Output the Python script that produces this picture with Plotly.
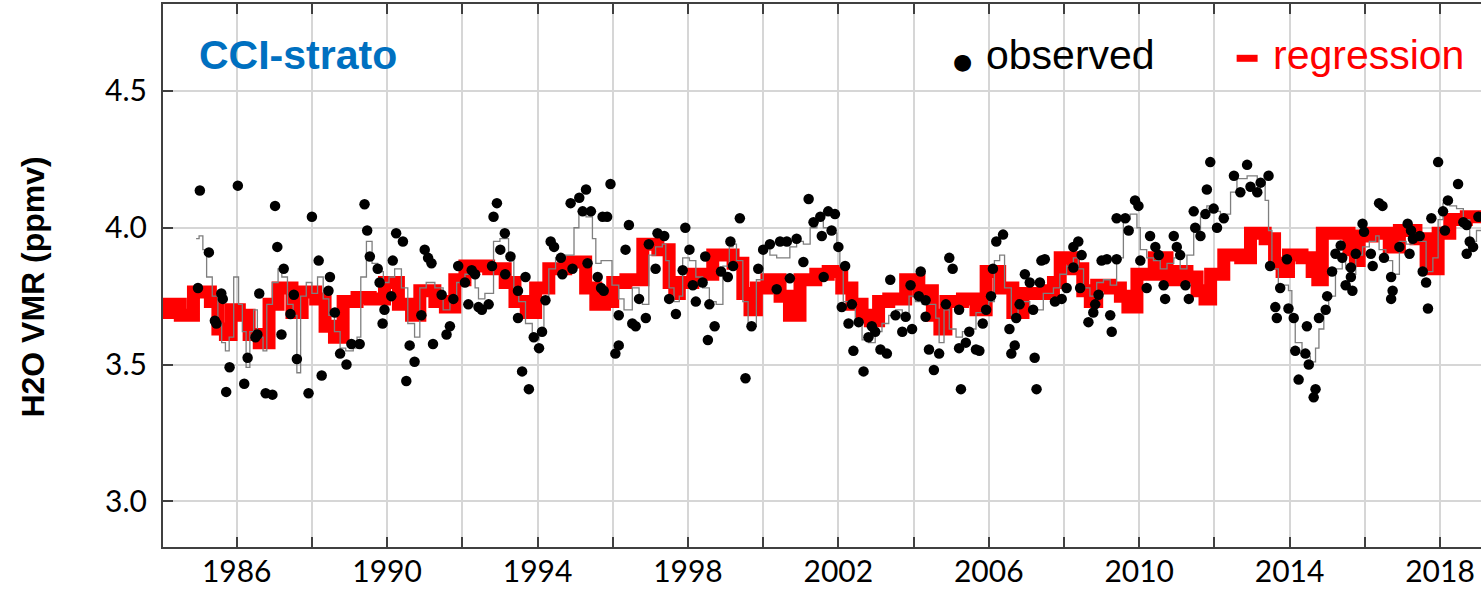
import plotly.graph_objects as go

# ---------------- data ----------------
# regression (step starts, decimal year) and values (ppmv)
reg_t = [1984.00, 1984.20, 1984.50, 1984.85, 1985.30, 1985.50, 1985.70, 1985.85, 1986.07, 1986.33,
         1986.60, 1986.86, 1987.10, 1987.47, 1987.74, 1988.10, 1988.35, 1988.60, 1988.83, 1989.20,
         1989.55, 1989.93, 1990.30, 1990.65, 1990.87, 1991.27, 1991.55, 1991.80, 1992.07, 1992.70,
         1993.14, 1993.40, 1993.70, 1993.95, 1994.30, 1994.75, 1995.28, 1995.55, 1995.78, 1996.00,
         1996.35, 1996.80, 1997.20, 1997.50, 1997.65, 1997.77, 1998.13, 1998.66, 1999.20, 1999.46,
         1999.65, 1999.82, 2000.10, 2000.45, 2000.70, 2000.98, 2001.40, 2001.73, 2002.09, 2002.36,
         2002.63, 2002.85, 2003.07, 2003.34, 2003.79, 2004.14, 2004.50, 2004.70, 2004.86, 2005.30,
         2005.66, 2005.93, 2006.29, 2006.64, 2006.91, 2007.50, 2007.72, 2007.90, 2008.25, 2008.50,
         2008.70, 2008.87, 2009.23, 2009.50, 2009.70, 2009.94, 2010.40, 2010.74, 2011.00, 2011.27,
         2011.54, 2011.75, 2011.90, 2012.25, 2012.70, 2012.96, 2013.35, 2013.60, 2013.80, 2013.97,
         2014.33, 2014.60, 2014.75, 2014.87, 2015.58, 2015.75, 2015.85, 2016.20, 2016.65, 2016.92,
         2017.36, 2017.63, 2017.80, 2017.95, 2018.26, 2018.70, 2019.30]
reg_v = [3.69, 3.72, 3.68, 3.765, 3.73, 3.63, 3.61, 3.70, 3.68, 3.61,
         3.58, 3.72, 3.78, 3.69, 3.765, 3.74, 3.64, 3.60, 3.73, 3.745,
         3.74, 3.80, 3.72, 3.68, 3.77, 3.73, 3.71, 3.81, 3.86, 3.85,
         3.80, 3.73, 3.69, 3.78, 3.85, 3.875, 3.78, 3.72, 3.73, 3.80,
         3.81, 3.94, 3.92, 3.80, 3.76, 3.80, 3.83, 3.90, 3.87, 3.76,
         3.70, 3.78, 3.81, 3.75, 3.68, 3.81, 3.83, 3.84, 3.78, 3.72,
         3.68, 3.66, 3.73, 3.74, 3.81, 3.77, 3.68, 3.63, 3.73, 3.74,
         3.70, 3.84, 3.78, 3.69, 3.76, 3.77, 3.80, 3.89, 3.85, 3.77,
         3.73, 3.79, 3.78, 3.75, 3.71, 3.83, 3.89, 3.81, 3.84, 3.82,
         3.77, 3.74, 3.83, 3.90, 3.89, 3.98, 3.96, 3.87, 3.84, 3.90,
         3.89, 3.84, 3.81, 3.98, 3.92, 3.88, 3.97, 3.98, 3.93, 3.99,
         3.96, 3.88, 3.85, 3.98, 4.03, 4.04, 4.04]

# merged observed series (thin grey line)
gray_t = [1984.92, 1985.00, 1985.10, 1985.20, 1985.35, 1985.50, 1985.60, 1985.70, 1985.80, 1985.92,
          1986.05, 1986.15, 1986.25, 1986.35, 1986.45, 1986.55, 1986.70, 1986.80, 1986.95, 1987.10,
          1987.20, 1987.35, 1987.50, 1987.60, 1987.70, 1987.85, 1988.00, 1988.15, 1988.30, 1988.45,
          1988.60, 1988.75, 1988.90, 1989.10, 1989.20, 1989.30, 1989.45, 1989.60, 1989.75, 1989.90,
          1990.05, 1990.20, 1990.38, 1990.55, 1990.73, 1990.87, 1991.04, 1991.27, 1991.49, 1991.67,
          1991.85, 1992.07, 1992.34, 1992.43, 1992.60, 1992.83, 1993.00, 1993.23, 1993.37, 1993.50,
          1993.68, 1993.86, 1994.04, 1994.17, 1994.30, 1994.48, 1994.75, 1994.97, 1995.10, 1995.29,
          1995.46, 1995.55, 1995.69, 1995.80, 1995.98, 1996.16, 1996.30, 1996.52, 1996.70, 1996.79,
          1996.96, 1997.14, 1997.32, 1997.41, 1997.50, 1997.63, 1997.77, 1997.86, 1998.04, 1998.21,
          1998.39, 1998.57, 1998.75, 1998.93, 1999.10, 1999.20, 1999.29, 1999.46, 1999.60, 1999.73,
          1999.82, 2000.00, 2000.18, 2000.36, 2000.54, 2000.71, 2000.89, 2001.07, 2001.25, 2001.43,
          2001.60, 2001.82, 2001.96, 2002.04, 2002.13, 2002.31, 2002.45, 2002.63, 2002.80, 2002.98,
          2003.16, 2003.34, 2003.52, 2003.70, 2003.88, 2004.05, 2004.23, 2004.41, 2004.59, 2004.68,
          2004.81, 2004.95, 2005.13, 2005.30, 2005.44, 2005.66, 2005.84, 2006.00, 2006.15, 2006.29,
          2006.42, 2006.60, 2006.78, 2006.91, 2007.09, 2007.27, 2007.45, 2007.60, 2007.72, 2007.89,
          2008.07, 2008.25, 2008.38, 2008.52, 2008.69, 2008.87, 2009.05, 2009.23, 2009.40, 2009.58,
          2009.76, 2009.94, 2010.03, 2010.20, 2010.38, 2010.56, 2010.74, 2010.92, 2011.09, 2011.27,
          2011.45, 2011.63, 2011.80, 2011.98, 2012.16, 2012.34, 2012.43, 2012.60, 2012.87, 2013.14,
          2013.35, 2013.44, 2013.53, 2013.70, 2013.97, 2014.06, 2014.15, 2014.33, 2014.55, 2014.69,
          2014.78, 2014.91, 2015.04, 2015.22, 2015.40, 2015.49, 2015.67, 2015.76, 2015.94, 2016.12,
          2016.29, 2016.38, 2016.56, 2016.74, 2016.92, 2017.10, 2017.28, 2017.46, 2017.63, 2017.81,
          2017.95, 2018.08, 2018.26, 2018.44, 2018.62, 2018.79, 2018.97, 2019.15]
gray_v = [3.96, 3.97, 3.92, 3.82, 3.75, 3.65, 3.58, 3.55, 3.60, 3.82,
          3.72, 3.62, 3.49, 3.62, 3.70, 3.60, 3.55, 3.72, 3.80, 3.85,
          3.82, 3.72, 3.68, 3.47, 3.75, 3.80, 3.76, 3.82, 3.74, 3.68,
          3.62, 3.56, 3.55, 3.56, 3.60, 3.82, 3.95, 3.87, 3.84, 3.80,
          3.82, 3.85, 3.78, 3.65, 3.60, 3.78, 3.80, 3.78, 3.70, 3.73,
          3.80, 3.83, 3.78, 3.74, 3.76, 3.95, 3.96, 3.89, 3.78, 3.73,
          3.65, 3.59, 3.63, 3.73, 3.85, 3.89, 3.90, 4.00, 4.06, 4.04,
          3.96, 3.87, 3.88, 3.88, 3.79, 3.74, 3.70, 3.78, 3.74, 3.72,
          3.90, 3.93, 3.94, 3.88, 3.78, 3.73, 3.75, 3.89, 3.88, 3.82,
          3.78, 3.73, 3.72, 3.86, 3.93, 3.94, 3.88, 3.73, 3.65, 3.64,
          3.81, 3.93, 3.90, 3.89, 3.89, 3.93, 3.95, 3.94, 4.00, 4.04,
          4.00, 3.98, 3.93, 3.86, 3.73, 3.73, 3.65, 3.59, 3.58, 3.62,
          3.65, 3.68, 3.70, 3.68, 3.75, 3.73, 3.72, 3.72, 3.67, 3.58,
          3.70, 3.63, 3.60, 3.62, 3.63, 3.69, 3.70, 3.73, 3.88, 3.90,
          3.78, 3.68, 3.72, 3.73, 3.69, 3.70, 3.76, 3.76, 3.78, 3.83,
          3.86, 3.89, 3.85, 3.78, 3.75, 3.80, 3.81, 3.79, 3.89, 4.03,
          4.05, 4.00, 3.92, 3.89, 3.88, 3.85, 3.87, 3.89, 3.85, 3.90,
          3.99, 4.04, 4.08, 4.06, 4.05, 4.05, 4.13, 4.18, 4.19, 4.17,
          4.10, 3.99, 3.85, 3.79, 3.77, 3.68, 3.58, 3.53, 3.51, 3.56,
          3.63, 3.69, 3.75, 3.85, 3.90, 3.85, 3.83, 3.90, 3.93, 3.95,
          3.97, 3.92, 3.88, 3.83, 3.95, 3.94, 3.96, 3.95, 3.84, 3.89,
          4.03, 4.09, 4.08, 4.07, 4.03, 3.95, 3.99, 4.01]

# observed individual values (black dots)
obs_t = [1984.97, 1985.02, 1985.26, 1985.42, 1985.46, 1985.59, 1985.63, 1985.72, 1985.81, 1986.03,
         1986.20, 1986.29, 1986.50, 1986.55, 1986.60, 1986.77, 1986.95, 1987.02, 1987.08, 1987.19,
         1987.25, 1987.43, 1987.52, 1987.60, 1987.91, 1988.00, 1988.18, 1988.26, 1988.44, 1988.48,
         1988.61, 1988.75, 1988.92, 1989.05, 1989.27, 1989.40, 1989.47, 1989.54, 1989.75, 1989.80,
         1989.88, 1989.93, 1990.11, 1990.15, 1990.24, 1990.42, 1990.51, 1990.60, 1990.73, 1990.91,
         1991.00, 1991.09, 1991.18, 1991.22, 1991.45, 1991.58, 1991.67, 1991.76, 1991.89, 1992.07,
         1992.16, 1992.25, 1992.34, 1992.43, 1992.52, 1992.70, 1992.79, 1992.83, 1992.92, 1993.01,
         1993.13, 1993.14, 1993.28, 1993.48, 1993.48, 1993.59, 1993.68, 1993.77, 1993.90, 1994.04,
         1994.12, 1994.21, 1994.35, 1994.44, 1994.62, 1994.66, 1994.88, 1994.93, 1995.11, 1995.20,
         1995.29, 1995.33, 1995.42, 1995.60, 1995.69, 1995.73, 1995.76, 1995.85, 1995.94, 1996.07,
         1996.16, 1996.16, 1996.34, 1996.43, 1996.52, 1996.61, 1996.70, 1996.88, 1996.96, 1997.14,
         1997.19, 1997.37, 1997.50, 1997.68, 1997.86, 1997.93, 1998.04, 1998.13, 1998.21, 1998.39,
         1998.46, 1998.53, 1998.57, 1998.71, 1998.88, 1999.06, 1999.13, 1999.20, 1999.38, 1999.53,
         1999.69, 1999.87, 2000.00, 2000.18, 2000.36, 2000.45, 2000.63, 2000.71, 2000.89, 2001.07,
         2001.21, 2001.34, 2001.52, 2001.56, 2001.61, 2001.73, 2001.82, 2001.91, 2002.00, 2002.09,
         2002.18, 2002.27, 2002.36, 2002.40, 2002.54, 2002.67, 2002.80, 2002.89, 2002.98, 2003.12,
         2003.29, 2003.38, 2003.52, 2003.70, 2003.79, 2003.92, 2003.96, 2004.14, 2004.19, 2004.32,
         2004.32, 2004.41, 2004.54, 2004.68, 2004.86, 2004.95, 2005.04, 2005.21, 2005.21, 2005.26,
         2005.39, 2005.48, 2005.66, 2005.75, 2005.84, 2005.93, 2006.06, 2006.11, 2006.20, 2006.38,
         2006.55, 2006.60, 2006.69, 2006.73, 2006.82, 2006.96, 2007.09, 2007.18, 2007.22, 2007.27,
         2007.36, 2007.40, 2007.49, 2007.76, 2007.94, 2008.07, 2008.25, 2008.25, 2008.38, 2008.43,
         2008.47, 2008.65, 2008.78, 2008.83, 2008.92, 2009.00, 2009.14, 2009.23, 2009.27, 2009.40,
         2009.40, 2009.63, 2009.72, 2009.89, 2009.98, 2010.03, 2010.20, 2010.29, 2010.43, 2010.52,
         2010.65, 2010.69, 2010.92, 2011.00, 2011.09, 2011.23, 2011.32, 2011.45, 2011.49, 2011.63,
         2011.76, 2011.80, 2011.89, 2011.98, 2012.07, 2012.25, 2012.52, 2012.69, 2012.87, 2012.96,
         2013.14, 2013.23, 2013.44, 2013.48, 2013.62, 2013.66, 2013.75, 2013.93, 2013.97, 2014.11,
         2014.15, 2014.24, 2014.42, 2014.46, 2014.51, 2014.64, 2014.69, 2014.78, 2014.96, 2015.00,
         2015.13, 2015.22, 2015.36, 2015.40, 2015.49, 2015.63, 2015.63, 2015.67, 2015.76, 2015.94,
         2015.98, 2016.16, 2016.21, 2016.38, 2016.47, 2016.51, 2016.70, 2016.70, 2016.74, 2016.92,
         2017.14, 2017.19, 2017.23, 2017.28, 2017.46, 2017.54, 2017.63, 2017.68, 2017.77, 2017.95,
         2018.08, 2018.13, 2018.21, 2018.48, 2018.62, 2018.71, 2018.71, 2018.79, 2018.88, 2019.02]
obs_v = [3.78, 4.136, 3.91, 3.66, 3.65, 3.76, 3.74, 3.40, 3.49, 4.154,
         3.43, 3.525, 3.60, 3.61, 3.76, 3.395, 3.39, 4.08, 3.93, 3.61,
         3.85, 3.685, 3.755, 3.52, 3.395, 4.04, 3.88, 3.46, 3.77, 3.82,
         3.69, 3.54, 3.50, 3.575, 3.575, 4.086, 3.99, 3.895, 3.85, 3.80,
         3.65, 3.70, 3.75, 3.88, 3.98, 3.95, 3.44, 3.57, 3.51, 3.68,
         3.92, 3.89, 3.87, 3.575, 3.755, 3.61, 3.64, 3.74, 3.86, 3.80,
         3.72, 3.845, 3.83, 3.71, 3.70, 3.72, 3.86, 4.04, 4.09, 3.92,
         3.98, 3.83, 3.895, 3.77, 3.67, 3.475, 3.82, 3.41, 3.60, 3.56,
         3.62, 3.735, 3.95, 3.93, 3.89, 3.83, 4.09, 3.85, 4.11, 4.06,
         4.14, 3.87, 4.06, 3.82, 3.78, 4.04, 3.77, 4.04, 4.16, 3.54,
         3.68, 3.57, 3.92, 4.01, 3.65, 3.64, 3.74, 3.67, 3.94, 3.85,
         3.98, 3.97, 3.74, 3.685, 3.845, 4.00, 3.92, 3.79, 3.73, 3.80,
         3.895, 3.59, 3.72, 3.64, 3.84, 3.82, 3.95, 3.86, 4.035, 3.45,
         3.64, 3.85, 3.92, 3.94, 3.775, 3.95, 3.95, 3.815, 3.96, 3.875,
         4.105, 4.02, 4.04, 3.97, 3.82, 4.06, 3.99, 4.05, 3.93, 3.71,
         3.86, 3.65, 3.72, 3.55, 3.655, 3.475, 3.60, 3.64, 3.62, 3.555,
         3.54, 3.81, 3.68, 3.62, 3.675, 3.79, 3.63, 3.75, 3.84, 3.735,
         3.675, 3.555, 3.48, 3.54, 3.72, 3.89, 3.85, 3.70, 3.56, 3.41,
         3.58, 3.62, 3.555, 3.55, 3.65, 3.70, 3.75, 3.85, 3.95, 3.975,
         3.63, 3.54, 3.57, 3.67, 3.72, 3.83, 3.80, 3.70, 3.525, 3.41,
         3.80, 3.88, 3.885, 3.73, 3.74, 3.78, 3.93, 3.855, 3.95, 3.78,
         3.90, 3.655, 3.69, 3.72, 3.755, 3.88, 3.885, 3.68, 3.62, 4.035,
         3.885, 4.035, 3.99, 4.10, 4.08, 3.88, 3.78, 3.97, 3.93, 3.90,
         3.79, 3.74, 3.97, 3.93, 3.90, 3.79, 3.74, 4.06, 4.00, 3.97,
         4.05, 4.14, 4.24, 4.07, 4.00, 4.035, 4.19, 4.13, 4.23, 4.15,
         4.13, 4.165, 4.19, 3.86, 3.71, 3.67, 3.78, 3.885, 3.705, 3.67,
         3.55, 3.445, 3.54, 3.64, 3.50, 3.38, 3.41, 3.67, 3.70, 3.75,
         3.84, 3.905, 3.935, 3.89, 3.79, 3.855, 3.82, 3.77, 3.905, 4.015,
         3.985, 3.905, 3.86, 4.09, 4.08, 3.89, 3.82, 3.74, 3.77, 3.93,
         4.015, 3.905, 3.99, 3.96, 3.97, 3.84, 3.80, 3.705, 4.035, 4.24,
         4.06, 3.99, 4.10, 4.16, 4.02, 4.01, 3.905, 3.95, 3.93, 4.04]

year_ticks = list(range(1986, 2019, 2))
year_labels = [str(y) if (y - 1986) % 4 == 0 else "" for y in year_ticks]
vmr_ticks = [3.0, 3.5, 4.0, 4.5]
vmr_labels = ["3.0", "3.5", "4.0", "4.5"]

# ---------------- figure ----------------
fig = go.Figure()
fig.add_trace(go.Scatter(x=reg_t, y=reg_v, mode="lines", line=dict(color="#ff0000", width=13, shape="hv"),
                         name="regression", showlegend=False))
fig.add_trace(go.Scatter(x=gray_t, y=gray_v, mode="lines", line=dict(color="#7f7f7f", width=1.3, shape="hv"),
                         name="merged", showlegend=False))
fig.add_trace(go.Scatter(x=obs_t, y=obs_v, mode="markers",
                         marker=dict(color="black", size=10.5, symbol="circle"),
                         name="observed", showlegend=False))

axis_col = "#404040"
fig.update_xaxes(range=[1984.04, 2019.09], tickmode="array", tickvals=year_ticks, ticktext=year_labels,
                 ticks="inside", ticklen=10, tickwidth=2, tickcolor=axis_col,
                 showline=True, linewidth=2, linecolor=axis_col, mirror="ticks",
                 showgrid=True, gridcolor="#d6d6d6", gridwidth=2, zeroline=False, automargin=False,
                 tickfont=dict(family="Lato", size=30, color="black"), ticklabelstandoff=-3)
fig.update_yaxes(range=[2.833, 4.818], tickmode="array", tickvals=vmr_ticks, ticktext=vmr_labels,
                 ticks="inside", ticklen=10, tickwidth=2, tickcolor=axis_col,
                 showline=True, linewidth=2, linecolor=axis_col, mirror=False,
                 showgrid=True, gridcolor="#d6d6d6", gridwidth=2, zeroline=False, automargin=False,
                 tickfont=dict(family="Lato", size=30, color="black"), ticklabelstandoff=8)

fig.add_annotation(text="<b>CCI-strato</b>", xref="paper", yref="paper", x=0.026, y=0.906,
                   xanchor="left", yanchor="middle", showarrow=False,
                   font=dict(family="Liberation Sans", size=41, color="#0070c0"))
fig.add_annotation(text="●", xref="paper", yref="paper", x=0.6065, y=0.895,
                   xanchor="center", yanchor="middle", showarrow=False,
                   font=dict(family="DejaVu Sans", size=22, color="black"))
fig.add_annotation(text="observed", xref="paper", yref="paper", x=0.623, y=0.906,
                   xanchor="left", yanchor="middle", showarrow=False,
                   font=dict(family="Liberation Sans", size=41, color="black"))
fig.add_annotation(text="regression", xref="paper", yref="paper", x=0.8405, y=0.906,
                   xanchor="left", yanchor="middle", showarrow=False,
                   font=dict(family="Liberation Sans", size=41, color="#ff0000"))
fig.add_shape(type="line", xref="paper", yref="paper", x0=0.8146, x1=0.8305, y0=0.900, y1=0.900,
              line=dict(color="#ff0000", width=7))
fig.add_annotation(text="<b>H2O VMR (ppmv)</b>", xref="paper", yref="paper", x=-0.0985, y=0.478,
                   xanchor="center", yanchor="middle", textangle=-90, showarrow=False,
                   font=dict(family="Liberation Sans", size=32, color="black"))

fig.update_layout(width=1481, height=589, margin=dict(l=163, r=0, t=4, b=42, autoexpand=False),
                  paper_bgcolor="white", plot_bgcolor="white", showlegend=False)
fig.write_html("out.html", config={"displayModeBar": False},
               post_script="document.body.style.margin='0';document.body.style.overflow='hidden';")
